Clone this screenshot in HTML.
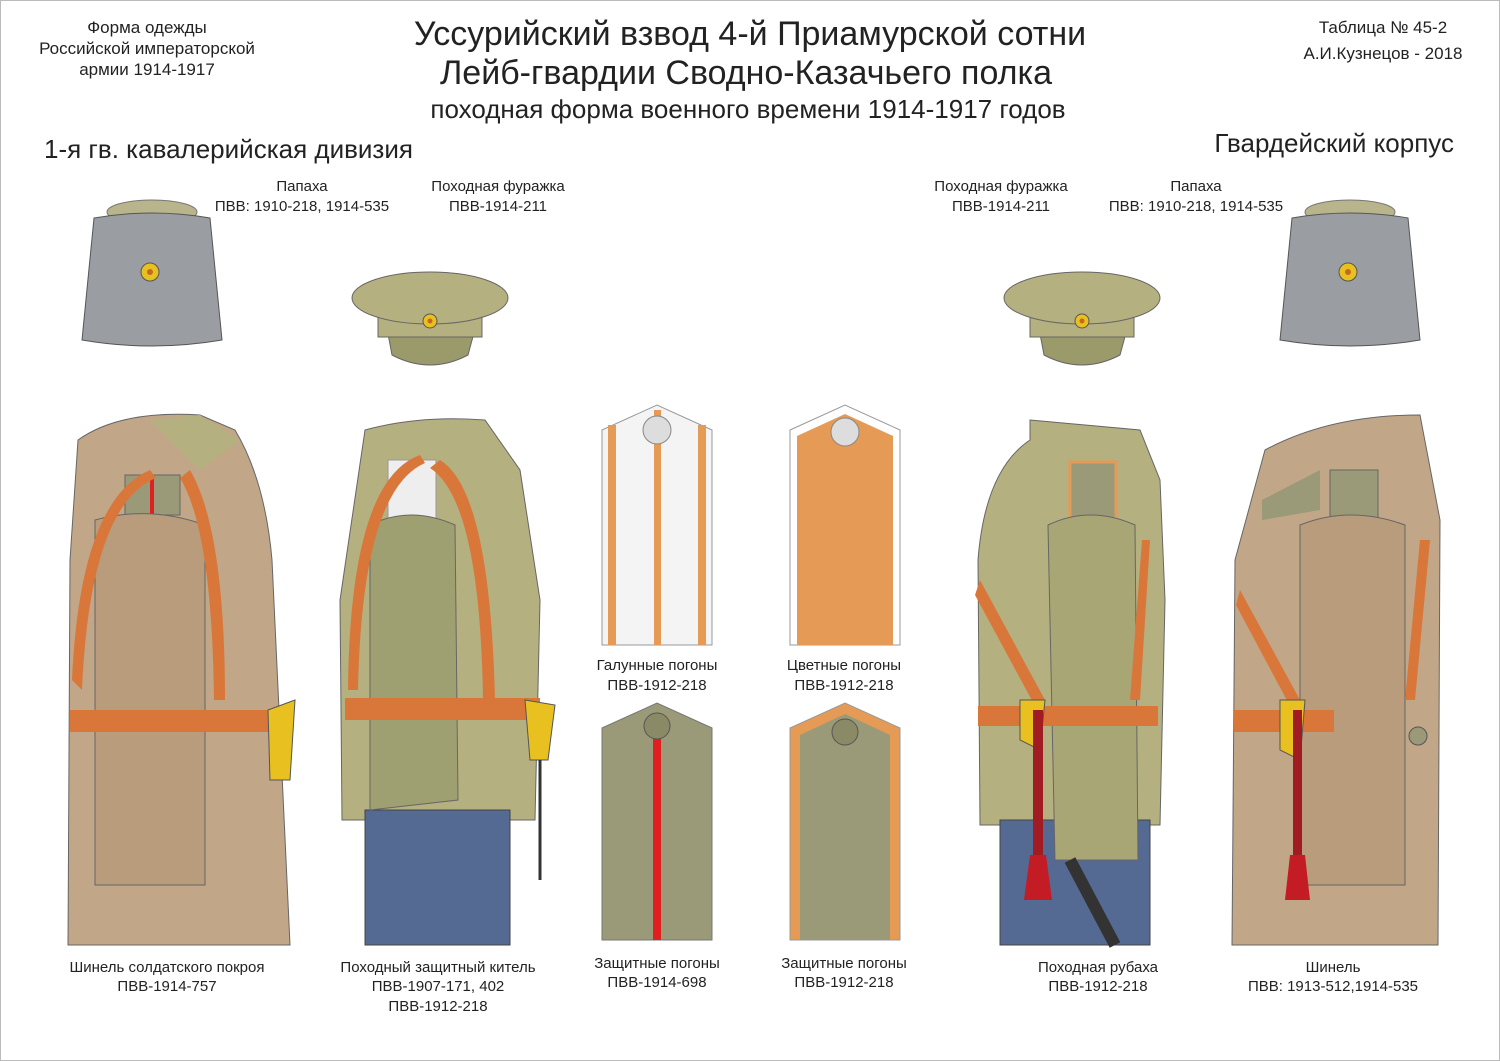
<!DOCTYPE html>
<html><head><meta charset="utf-8"><style>
body{margin:0;background:#fff}
svg{display:block}
text{font-family:"Liberation Sans",sans-serif;fill:#222}
</style></head><body>
<svg width="1500" height="1061" viewBox="0 0 1500 1061" xmlns="http://www.w3.org/2000/svg">
<rect x="0.5" y="0.5" width="1499" height="1060" fill="#fff" stroke="#bbb"/>
<g text-anchor="middle">
<text x="147" y="33" font-size="17">Форма одежды</text>
<text x="147" y="54" font-size="17">Российской императорской</text>
<text x="147" y="75" font-size="17">армии  1914-1917</text>
<text x="750" y="45" font-size="34">Уссурийский взвод 4-й Приамурской сотни</text>
<text x="746" y="84" font-size="34">Лейб-гвардии Сводно-Казачьего полка</text>
<text x="748" y="118" font-size="26">походная форма военного времени 1914-1917 годов</text>
<text x="1383" y="33" font-size="17">Таблица № 45-2</text>
<text x="1383" y="59" font-size="17">А.И.Кузнецов - 2018</text>
<text x="302" y="191" font-size="15">Папаха</text>
<text x="302" y="211" font-size="15">ПВВ: 1910-218, 1914-535</text>
<text x="498" y="191" font-size="15">Походная фуражка</text>
<text x="498" y="211" font-size="15">ПВВ-1914-211</text>
<text x="1001" y="191" font-size="15">Походная фуражка</text>
<text x="1001" y="211" font-size="15">ПВВ-1914-211</text>
<text x="1196" y="191" font-size="15">Папаха</text>
<text x="1196" y="211" font-size="15">ПВВ: 1910-218, 1914-535</text>
<text x="657" y="670" font-size="15">Галунные погоны</text>
<text x="657" y="690" font-size="15">ПВВ-1912-218</text>
<text x="844" y="670" font-size="15">Цветные погоны</text>
<text x="844" y="690" font-size="15">ПВВ-1912-218</text>
<text x="167" y="972" font-size="15">Шинель солдатского покроя</text>
<text x="167" y="991" font-size="15">ПВВ-1914-757</text>
<text x="438" y="972" font-size="15">Походный защитный китель</text>
<text x="438" y="991" font-size="15">ПВВ-1907-171, 402</text>
<text x="438" y="1011" font-size="15">ПВВ-1912-218</text>
<text x="657" y="968" font-size="15">Защитные погоны</text>
<text x="657" y="987" font-size="15">ПВВ-1914-698</text>
<text x="844" y="968" font-size="15">Защитные  погоны</text>
<text x="844" y="987" font-size="15">ПВВ-1912-218</text>
<text x="1098" y="972" font-size="15">Походная рубаха</text>
<text x="1098" y="991" font-size="15">ПВВ-1912-218</text>
<text x="1333" y="972" font-size="15">Шинель</text>
<text x="1333" y="991" font-size="15">ПВВ: 1913-512,1914-535</text>
</g>
<text x="44" y="158" font-size="26">1-я гв. кавалерийская дивизия</text>
<text x="1454" y="152" font-size="26" text-anchor="end">Гвардейский корпус</text>

<g id="pap">
<ellipse cx="152" cy="212" rx="45" ry="12" fill="#b8b48c" stroke="#777"/>
<path d="M94 218 Q152 208 210 218 L222 340 Q152 352 82 340 Z" fill="#9a9ea2" stroke="#555"/>
<circle cx="150" cy="272" r="9" fill="#e8c020" stroke="#555"/><circle cx="150" cy="272" r="3" fill="#c46a20"/>
</g>
<use href="#pap" transform="translate(1198,0)"/>

<g id="cap">
<path d="M385 318 L478 318 L468 355 Q430 375 392 355 Z" fill="#9a9a6a" stroke="#666"/>
<rect x="378" y="305" width="104" height="32" fill="#b5b07f" stroke="#666"/>
<ellipse cx="430" cy="298" rx="78" ry="26" fill="#b5b07f" stroke="#666"/>
<circle cx="430" cy="321" r="7" fill="#e8c020" stroke="#555"/><circle cx="430" cy="321" r="2.5" fill="#c46a20"/>
</g>
<use href="#cap" transform="translate(652,0)"/>

<path d="M78 440 Q120 410 200 415 L235 430 Q265 480 272 560 L290 945 L68 945 L70 560 Z" fill="#c2a688" stroke="#666"/>
<path d="M150 420 L200 415 L240 440 L200 470 Z" fill="#b5b07f"/>
<rect x="125" y="475" width="55" height="40" fill="#9a9a78" stroke="#666"/><rect x="150" y="475" width="4" height="40" fill="#e02020"/>
<path d="M95 520 Q150 505 205 525 L205 885 L95 885 Z" fill="#b89c7c" stroke="#666"/>
<rect x="70" y="710" width="200" height="22" fill="#d9773a"/>
<path d="M72 680 Q80 500 150 470 L156 478 Q90 505 82 690 Z" fill="#d9773a"/>
<path d="M190 470 Q225 530 225 700 L214 700 Q212 530 180 478 Z" fill="#d9773a"/>
<path d="M268 710 L295 700 L290 780 L270 780 Z" fill="#e8c020" stroke="#555"/>

<path d="M365 430 Q420 415 485 420 L520 470 L540 600 L535 820 L342 820 L340 600 Z" fill="#b5b07f" stroke="#666"/>
<path d="M365 810 L510 810 L510 945 L365 945 Z" fill="#546a93" stroke="#444"/>
<rect x="388" y="460" width="48" height="60" fill="#eee" stroke="#999"/>
<path d="M370 525 Q410 505 455 525 L458 800 L370 810 Z" fill="#9fa072" stroke="#666"/>
<rect x="345" y="698" width="195" height="22" fill="#d9773a"/>
<path d="M348 690 Q350 480 420 455 L425 463 Q362 490 358 690 Z" fill="#d9773a"/>
<path d="M440 460 Q490 490 495 700 L483 700 Q480 500 430 468 Z" fill="#d9773a"/>
<path d="M525 700 L555 705 L548 760 L530 760 Z" fill="#e8c020" stroke="#555"/>
<line x1="540" y1="760" x2="540" y2="880" stroke="#333" stroke-width="3"/>

<path d="M602 430 L657 405 L712 430 L712 645 L602 645 Z" fill="#f4f4f4" stroke="#999"/>
<rect x="608" y="425" width="8" height="220" fill="#e59a55"/><rect x="698" y="425" width="8" height="220" fill="#e59a55"/><rect x="654" y="410" width="7" height="235" fill="#e59a55"/>
<circle cx="657" cy="430" r="14" fill="#ddd" stroke="#888"/>
<path d="M790 430 L845 405 L900 430 L900 645 L790 645 Z" fill="#fff" stroke="#999"/>
<path d="M797 436 L845 414 L893 436 L893 645 L797 645 Z" fill="#e59a55"/>
<circle cx="845" cy="432" r="14" fill="#ddd" stroke="#888"/>
<path d="M602 728 L657 703 L712 728 L712 940 L602 940 Z" fill="#9a9a78" stroke="#777"/>
<rect x="653" y="715" width="8" height="225" fill="#e02020"/><circle cx="657" cy="726" r="13" fill="#8a8a66" stroke="#555"/>
<path d="M790 728 L845 703 L900 728 L900 940 L790 940 Z" fill="#e59a55" stroke="#999"/>
<path d="M800 735 L845 714 L890 735 L890 940 L800 940 Z" fill="#9a9a78"/><circle cx="845" cy="732" r="13" fill="#8a8a66" stroke="#555"/>

<path d="M1030 420 L1140 430 L1160 480 L1165 600 L1160 825 L980 825 L978 560 Q985 470 1030 440 Z" fill="#b5b07f" stroke="#666"/>
<path d="M1000 820 L1150 820 L1150 945 L1000 945 Z" fill="#546a93" stroke="#444"/>
<rect x="1070" y="462" width="46" height="62" fill="#9a9a78" stroke="#e59a55" stroke-width="3"/>
<path d="M1048 525 Q1090 505 1135 525 L1138 860 L1055 860 Z" fill="#a9a676" stroke="#666"/>
<rect x="978" y="706" width="180" height="20" fill="#d9773a"/>
<path d="M980 580 L1045 700 L1035 706 L975 595 Z" fill="#d9773a"/>
<path d="M1150 540 L1140 700 L1130 700 L1142 540 Z" fill="#d9773a"/>
<path d="M1020 700 L1045 700 L1040 750 L1020 740 Z" fill="#e8c020" stroke="#555"/>
<rect x="1033" y="710" width="10" height="150" fill="#a01c22"/><path d="M1030 855 L1046 855 L1052 900 L1024 900 Z" fill="#c41c24"/>
<line x1="1070" y1="860" x2="1115" y2="945" stroke="#333" stroke-width="12"/>

<path d="M1265 450 Q1330 415 1420 415 L1440 520 L1438 945 L1232 945 L1235 560 Z" fill="#c2a688" stroke="#666"/>
<rect x="1330" y="470" width="48" height="50" fill="#9a9a78" stroke="#666"/>
<path d="M1262 500 L1320 470 L1320 510 L1262 520 Z" fill="#9a9a78"/>
<path d="M1300 525 Q1350 505 1405 525 L1405 885 L1300 885 Z" fill="#b89c7c" stroke="#666"/>
<rect x="1234" y="710" width="100" height="22" fill="#d9773a"/>
<path d="M1240 590 L1300 700 L1290 706 L1236 605 Z" fill="#d9773a"/>
<path d="M1430 540 L1415 700 L1405 700 L1420 540 Z" fill="#d9773a"/>
<path d="M1280 700 L1305 700 L1300 760 L1280 750 Z" fill="#e8c020" stroke="#555"/>
<rect x="1293" y="710" width="9" height="150" fill="#a01c22"/><path d="M1290 855 L1305 855 L1310 900 L1285 900 Z" fill="#c41c24"/>
<circle cx="1418" cy="736" r="9" fill="#9a9a78" stroke="#555"/>
</svg>
</body></html>
